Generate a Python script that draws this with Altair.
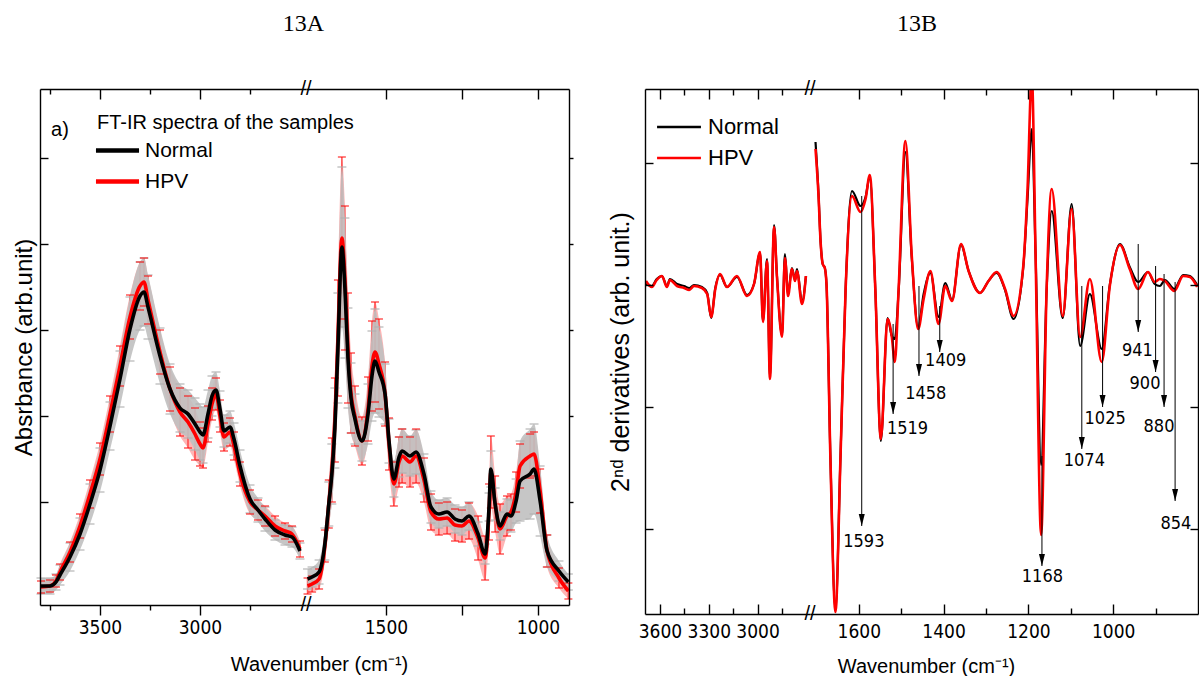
import altair as alt
import pandas as pd

SANS = "Liberation Sans, Arial, Helvetica, sans-serif"
NARROW = "Liberation Sans Narrow, Arial Narrow, DejaVu Sans Condensed, Liberation Sans, sans-serif"
SERIF = "Liberation Serif, Times New Roman, serif"

# ---------------- Panel 13A : FT-IR absorbance (arb. unit) ----------------
a_left_wn = [3795, 3750, 3720, 3700, 3650, 3600, 3550, 3500, 3450, 3400, 3350, 3300, 3280, 3260,
             3200, 3150, 3100, 3060, 3025, 3000, 2985, 2960, 2940, 2920, 2900, 2880, 2850, 2830,
             2800, 2750, 2710, 2675, 2625, 2575, 2540, 2500]
a_left_normal = [0.02, 0.02, 0.06, 0.13, 0.31, 0.54, 0.84, 1.18, 1.62, 2.09, 2.59, 2.92, 2.96, 2.81,
                 2.32, 1.99, 1.80, 1.74, 1.64, 1.56, 1.53, 1.74, 1.92, 1.98, 1.79, 1.57, 1.61, 1.49,
                 1.22, 0.89, 0.78, 0.69, 0.58, 0.53, 0.51, 0.37]
a_left_hpv = [0.01, 0.02, 0.07, 0.16, 0.36, 0.62, 0.94, 1.29, 1.74, 2.22, 2.71, 3.02, 3.06, 2.88,
              2.36, 1.99, 1.76, 1.66, 1.54, 1.44, 1.40, 1.64, 1.84, 1.94, 1.72, 1.51, 1.56, 1.42,
              1.14, 0.86, 0.78, 0.72, 0.62, 0.57, 0.54, 0.39]
a_left_normal_sd = [0.08, 0.08, 0.08, 0.10, 0.14, 0.16, 0.20, 0.22, 0.24, 0.28, 0.32, 0.34, 0.34, 0.32,
                    0.28, 0.25, 0.24, 0.24, 0.26, 0.28, 0.28, 0.24, 0.20, 0.18, 0.18, 0.16, 0.16, 0.16,
                    0.16, 0.14, 0.12, 0.12, 0.10, 0.10, 0.10, 0.08]
a_left_hpv_sd = [0.06, 0.06, 0.06, 0.08, 0.10, 0.12, 0.14, 0.16, 0.18, 0.20, 0.22, 0.24, 0.24, 0.24,
                 0.22, 0.22, 0.24, 0.26, 0.26, 0.22, 0.20, 0.18, 0.16, 0.16, 0.16, 0.14, 0.14, 0.14,
                 0.12, 0.12, 0.10, 0.10, 0.10, 0.08, 0.08, 0.08]

a_right_wn = [1758, 1743, 1720, 1701, 1688, 1678, 1668, 1658, 1645, 1635, 1625, 1615, 1602, 1579,
              1559, 1546, 1536, 1523, 1503, 1490, 1474, 1457, 1447, 1421, 1401, 1375, 1352, 1326,
              1299, 1273, 1250, 1227, 1197, 1174, 1161, 1155, 1141, 1125, 1102, 1089, 1072, 1059,
              1026, 1013, 993, 970, 931, 900]
a_right_normal = [0.09, 0.11, 0.16, 0.44, 0.84, 1.14, 1.60, 2.40, 3.41, 3.00, 2.30, 1.90, 1.69, 1.47,
                  1.74, 2.12, 2.27, 2.16, 1.94, 1.47, 1.09, 1.31, 1.37, 1.32, 1.36, 1.14, 0.81, 0.74,
                  0.76, 0.69, 0.67, 0.72, 0.54, 0.34, 0.81, 1.19, 0.84, 0.62, 0.74, 0.72, 0.87, 1.07,
                  1.14, 1.19, 0.87, 0.37, 0.17, 0.06]
a_right_hpv = [0.02, 0.04, 0.09, 0.42, 0.84, 1.18, 1.68, 2.50, 3.50, 3.10, 2.40, 1.95, 1.72, 1.47,
               1.79, 2.22, 2.36, 2.24, 1.94, 1.44, 1.04, 1.26, 1.32, 1.26, 1.32, 1.08, 0.76, 0.69,
               0.70, 0.63, 0.62, 0.67, 0.50, 0.30, 0.76, 1.16, 0.84, 0.59, 0.72, 0.76, 0.96, 1.22,
               1.32, 1.34, 0.97, 0.37, 0.10, -0.03]
a_right_normal_sd = [0.10, 0.10, 0.12, 0.16, 0.22, 0.30, 0.40, 0.55, 0.80, 0.70, 0.50, 0.35, 0.25, 0.20,
                     0.30, 0.45, 0.52, 0.45, 0.30, 0.22, 0.18, 0.20, 0.22, 0.20, 0.22, 0.20, 0.16, 0.14,
                     0.14, 0.14, 0.14, 0.14, 0.12, 0.10, 0.14, 0.18, 0.16, 0.14, 0.15, 0.16, 0.22, 0.40,
                     0.45, 0.45, 0.35, 0.16, 0.10, 0.08]
a_right_hpv_sd = [0.08, 0.08, 0.10, 0.16, 0.24, 0.32, 0.42, 0.58, 0.81, 0.72, 0.55, 0.40, 0.30, 0.24,
                  0.32, 0.45, 0.50, 0.45, 0.32, 0.26, 0.22, 0.25, 0.27, 0.25, 0.27, 0.22, 0.18, 0.16,
                  0.16, 0.16, 0.16, 0.18, 0.22, 0.22, 0.28, 0.36, 0.28, 0.25, 0.20, 0.18, 0.20, 0.22,
                  0.22, 0.22, 0.22, 0.16, 0.10, 0.08]

# ---------------- Panel 13B : 2nd derivative spectra ----------------
b_left_wn = [3686, 3650, 3620, 3588, 3557, 3539, 3495, 3452, 3420, 3391, 3342, 3310, 3285, 3260,
             3231, 3188, 3127, 3065, 3022, 2985, 2967, 2942, 2924, 2899, 2881, 2850, 2832, 2813,
             2789, 2770, 2758, 2727, 2703]
b_left_normal = [0.01, -0.01, 0.06, 0.09, -0.01, 0.06, 0.01, -0.01, -0.03, 0.00, -0.02, -0.08, -0.33,
                 -0.03, 0.10, -0.02, 0.08, -0.10, 0.01, 0.32, -0.36, 0.26, -0.92, 0.60, 0.09, -0.50,
                 0.31, -0.09, 0.17, 0.05, 0.16, -0.17, 0.09]
b_left_hpv = [0.04, -0.02, 0.05, 0.09, -0.02, 0.05, -0.01, -0.03, -0.05, -0.01, -0.03, -0.09, -0.32,
              -0.04, 0.11, -0.02, 0.09, -0.11, 0.01, 0.33, -0.37, 0.24, -0.94, 0.58, 0.08, -0.52,
              0.27, -0.11, 0.16, 0.04, 0.14, -0.19, 0.09]

b_right_wn = [1702, 1695, 1690, 1685, 1680, 1676, 1667, 1655, 1643, 1631, 1616, 1596, 1584, 1574,
              1561, 1548, 1532, 1522, 1515, 1506, 1490, 1475, 1460, 1447, 1431, 1412, 1396, 1380,
              1359, 1341, 1314, 1294, 1275, 1255, 1235, 1212, 1202, 1192, 1183, 1170, 1157, 1145,
              1119, 1098, 1078, 1055, 1027, 1008, 984, 961, 941, 918, 902, 890, 878, 856, 835, 819, 802]
b_right_normal = [1.43, 0.92, 0.43, 0.21, 0.17, 0.00, -1.70, -3.25, -1.70, -0.03, 0.94, 0.79, 0.88, 1.08,
                  -0.04, -1.56, -0.33, -0.51, -0.54, -0.06, 1.33, 0.27, -0.42, -0.09, 0.12, -0.32, 0.02,
                  -0.15, 0.40, 0.14, -0.08, 0.04, 0.12, -0.05, -0.34, 0.18, 0.86, 1.56, 0.30, -1.80,
                  -0.05, 0.74, -0.33, 0.81, -0.61, -0.09, -0.64, 0.00, 0.41, 0.18, 0.03, 0.13, 0.01,
                  -0.01, 0.05, -0.04, 0.10, 0.09, 0.00]
b_right_hpv = [1.36, 0.90, 0.43, 0.21, 0.17, 0.00, -1.71, -3.27, -1.71, -0.04, 0.89, 0.73, 0.86, 1.10,
               -0.04, -1.54, -0.34, -0.52, -0.77, -0.04, 1.44, 0.29, -0.44, -0.14, 0.14, -0.39, -0.01,
               -0.16, 0.41, 0.14, -0.08, 0.04, 0.13, -0.04, -0.31, 0.19, 0.96, 2.10, 0.29, -2.50,
               -0.04, 0.96, -0.31, 0.76, -0.52, 0.06, -0.77, -0.01, 0.40, 0.16, -0.04, 0.13, 0.03,
               0.06, 0.04, -0.06, 0.09, 0.08, -0.02]

# peak annotations (arrows) in panel 13B
ann_wn = [1593, 1519, 1458, 1409, 1168, 1074, 1025, 941, 900, 880, 854]
ann_from = [0.89, -0.39, -0.01, -0.21, -1.71, -0.01, -0.01, 0.41, 0.19, 0.11, 0.03]
ann_to = [-2.41, -1.29, -0.91, -0.67, -2.81, -1.64, -1.22, -0.47, -0.87, -1.22, -2.16]
ann_label_wn = [1588, 1485, 1442, 1395, 1167, 1068, 1019, 943, 925, 892, 852]
ann_label_y = [-2.57, -1.44, -1.09, -0.76, -2.92, -1.76, -1.34, -0.66, -0.99, -1.42, -2.39]

series_names = ["Normal", "HPV"]
series_colors = ["#000000", "#ff0000"]

a_ticks_left_major = [3500, 3000]
a_ticks_left_minor = [3750, 3250, 2750]
a_ticks_right = [1500, 1250, 1000]
a_ticks_y = [0.86, 1.72, 2.58, 3.44, 4.30]
b_ticks_left_major = [3600, 3300, 3000]
b_ticks_left_minor = [3450, 3150, 2850]
b_ticks_right_major = [1600, 1400, 1200, 1000]
b_ticks_right_minor = [1500, 1300, 1100, 900]
b_ticks_y = [1.22, 0.0, -1.22, -2.44]

# ---------------- layout ----------------
WAL, WAR, GAP, WBL, WBR = 266, 263, 76, 165, 388
HA, HB = 516, 525

sx_al = alt.Scale(domain=[3800, 2470], nice=False, zero=False)
sx_ar = alt.Scale(domain=[1763, 898], nice=False, zero=False)
sx_bl = alt.Scale(domain=[3692, 2678], nice=False, zero=False)
sx_br = alt.Scale(domain=[1715, 800], nice=False, zero=False)
sy_a = alt.Scale(domain=[-0.17, 4.99], nice=False, zero=False)
sy_b = alt.Scale(domain=[-3.29, 1.96], nice=False, zero=False)
color_scale = alt.Scale(domain=series_names, range=series_colors)


def axis(orient, values, size=0, domain=False, labels=False, offset=0, **kw):
    p = dict(orient=orient, values=values, grid=False, domain=domain, labels=labels,
             ticks=size > 0, domainColor="black", domainWidth=1.4, tickColor="black",
             tickWidth=1.4, zindex=1, title=None)
    if size > 0:
        p["tickSize"] = size
    if offset:
        p["offset"] = offset
    if labels:
        p.update(labelFont=NARROW, labelFontSize=19, labelColor="black", labelPadding=3,
                 labelFlush=False, labelOverlap=False, labelAngle=0, format="d")
    p.update(kw)
    return alt.Axis(**p)


def axis_layers(df, yfield, sx, sy, xaxes=(), yaxes=()):
    out = []
    for a in xaxes:
        out.append(alt.Chart(df).mark_line(opacity=0).encode(
            x=alt.X("wn:Q", scale=sx, axis=a), y=alt.Y(f"{yfield}:Q", scale=sy, axis=None)))
    for a in yaxes:
        out.append(alt.Chart(df).mark_line(opacity=0).encode(
            x=alt.X("wn:Q", scale=sx, axis=None), y=alt.Y(f"{yfield}:Q", scale=sy, axis=a)))
    return out


def txt(text, x, y, **kw):
    return alt.Chart(pd.DataFrame({"t": [text]})).mark_text(**kw).encode(
        text="t:N", x=alt.value(x), y=alt.value(y))


def frame_df(wn, normal, hpv, nsd=None, hsd=None):
    df = pd.DataFrame({"wn": wn, "normal": normal, "hpv": hpv})
    if nsd is not None:
        df["n_lo"] = df["normal"] - pd.Series(nsd)
        df["n_hi"] = df["normal"] + pd.Series(nsd)
        df["h_lo"] = df["hpv"] - pd.Series(hsd)
        df["h_hi"] = df["hpv"] + pd.Series(hsd)
    return df


def long_df(df):
    return pd.concat([
        pd.DataFrame({"wn": df["wn"], "value": df["normal"], "series": "Normal"}),
        pd.DataFrame({"wn": df["wn"], "value": df["hpv"], "series": "HPV"}),
    ], ignore_index=True)


def a_data_layers(df, sx, legend):
    x = alt.X("wn:Q", scale=sx, axis=None)
    base = alt.Chart(df)
    red_band = base.mark_area(color="#ff5a5a", opacity=0.45, interpolate="monotone").encode(
        x=x, y=alt.Y("h_lo:Q", scale=sy_a, axis=None), y2="h_hi:Q")
    red_bars = base.mark_rule(color="#ff1a1a", strokeWidth=1.5, opacity=0.7).encode(
        x=x, y=alt.Y("h_lo:Q", scale=sy_a, axis=None), y2="h_hi:Q")
    grey_band = base.mark_area(color="#c0c0c0", opacity=0.9, interpolate="monotone").encode(
        x=x, y=alt.Y("n_lo:Q", scale=sy_a, axis=None), y2="n_hi:Q")
    grey_caps = base.transform_fold(["n_lo", "n_hi"], as_=["cap", "capv"]).mark_tick(
        color="#b0b0b0", orient="horizontal", size=9, thickness=1.6).encode(
        x=x, y=alt.Y("capv:Q", scale=sy_a, axis=None))
    red_caps = base.transform_fold(["h_lo", "h_hi"], as_=["cap", "capv"]).mark_tick(
        color="#ff0000", orient="horizontal", size=8, thickness=1.4).encode(
        x=x, y=alt.Y("capv:Q", scale=sy_a, axis=None))
    ld = long_df(df)
    lines = []
    for s in ["HPV", "Normal"]:
        lines.append(alt.Chart(ld[ld["series"] == s]).mark_line(
            strokeWidth=3.6, interpolate="monotone").encode(
            x=x, y=alt.Y("value:Q", scale=sy_a, axis=None),
            color=alt.Color("series:N", scale=color_scale, legend=legend)))
    return [red_band, red_bars, grey_band, grey_caps, red_caps] + lines


def b_data_layers(df, sx, legend):
    x = alt.X("wn:Q", scale=sx, axis=None)
    ld = long_df(df)
    lines = []
    for s, w in [("Normal", 2.2), ("HPV", 2.6)]:
        lines.append(alt.Chart(ld[ld["series"] == s]).mark_line(
            strokeWidth=w, interpolate="monotone", clip=True).encode(
            x=x, y=alt.Y("value:Q", scale=sy_b, axis=None),
            color=alt.Color("series:N", scale=color_scale, legend=legend)))
    return lines


xt_common = dict(title="Wavenumber (cm\u207b\u00b9)", titleAlign="center", titleBaseline="middle",
                 titleAngle=0, titleFont=SANS, titleFontSize=20, titleFontWeight="normal",
                 titleColor="black")

# ---------- 13A left window ----------
df_al = frame_df(a_left_wn, a_left_normal, a_left_hpv, a_left_normal_sd, a_left_hpv_sd)
legend_a = alt.Legend(title="FT-IR spectra of the samples", orient="none", legendX=57, legendY=24,
                      symbolType="M-1.18,0L1.18,0", symbolSize=1332, symbolStrokeWidth=4.5,
                      labelFont=SANS, labelFontSize=21, labelColor="black", labelOffset=7,
                      titleFont=SANS, titleFontSize=20, titleFontWeight="normal",
                      titleColor="black", titleLimit=400, rowPadding=0, titlePadding=-3,
                      padding=0)
A_left = alt.layer(
    *a_data_layers(df_al, sx_al, legend_a),
    txt("a)", 20, 41, font=SANS, fontSize=20, align="center", baseline="middle", color="black"),
    txt("//", WAL, 0, font=SANS, fontSize=20, align="center", baseline="middle", color="black"),
    txt("//", WAL, HA, font=SANS, fontSize=20, align="center", baseline="middle", color="black"),
    *axis_layers(df_al, "normal", sx_al, sy_a,
                 xaxes=[axis("bottom", a_ticks_left_major, 10, domain=True, labels=True,
                             titleX=279, titleY=59, **xt_common),
                        axis("bottom", a_ticks_left_minor, 5),
                        axis("bottom", a_ticks_left_major, 10, domain=True, offset=-HA),
                        axis("bottom", a_ticks_left_minor, 5, offset=-HA)],
                 yaxes=[axis("left", a_ticks_y, 0, domain=True, title="Absrbance (arb.unit)",
                             titleFont=SANS, titleFontSize=24, titleFontWeight="normal",
                             titleColor="black", titlePadding=4),
                        axis("right", a_ticks_y, 8, offset=-WAL)]),
).resolve_axis(x="independent", y="independent").properties(width=WAL, height=HA)

# ---------- 13A right window ----------
df_ar = frame_df(a_right_wn, a_right_normal, a_right_hpv, a_right_normal_sd, a_right_hpv_sd)
A_right = alt.layer(
    *a_data_layers(df_ar, sx_ar, None),
    *axis_layers(df_ar, "normal", sx_ar, sy_a,
                 xaxes=[axis("bottom", a_ticks_right, 10, domain=True, labels=True,
                             labelExpr="datum.value == 1250 ? '' : datum.label"),
                        axis("bottom", a_ticks_right, 10, domain=True, offset=-HA)],
                 yaxes=[axis("right", a_ticks_y, 4, domain=True)]),
).resolve_axis(x="independent", y="independent").properties(
    width=WAR, height=HA,
    title=alt.TitleParams("13A", anchor="start", align="center", dx=3, offset=33, font=SERIF,
                          fontSize=24, fontWeight="normal", color="black", baseline="alphabetic"))

spacer = alt.Chart(pd.DataFrame({"s": [0]})).mark_point(opacity=0).encode(
    x=alt.X("s:Q", axis=None), y=alt.Y("s:Q", axis=None)).properties(width=GAP, height=HA)

# ---------- 13B left window ----------
df_bl = frame_df(b_left_wn, b_left_normal, b_left_hpv)
legend_b = alt.Legend(title=None, orient="none", legendX=14, legendY=18,
                      symbolType="M-1.17,0L1.17,0", symbolSize=1406, symbolStrokeWidth=2.5,
                      labelFont=SANS, labelFontSize=22, labelColor="black", labelOffset=9,
                      rowPadding=0, padding=0)
B_left = alt.layer(
    *b_data_layers(df_bl, sx_bl, legend_b),
    txt("//", WBL, 0, font=SANS, fontSize=20, align="center", baseline="middle", color="black"),
    txt("//", WBL, HB, font=SANS, fontSize=20, align="center", baseline="middle", color="black"),
    *axis_layers(df_bl, "normal", sx_bl, sy_b,
                 xaxes=[axis("bottom", b_ticks_left_major, 0, domain=True, labels=True,
                             labelPadding=8),
                        axis("top", b_ticks_left_major, 10, offset=-HB),
                        axis("top", b_ticks_left_minor, 6, offset=-HB),
                        axis("bottom", b_ticks_left_major, 10, domain=True, offset=-HB),
                        axis("bottom", b_ticks_left_minor, 6, offset=-HB)],
                 yaxes=[axis("left", b_ticks_y, 0, domain=True,
                             title="2\u207f\u1d48 derivatives (arb. unit.)", titleFont=SANS,
                             titleFontSize=25, titleFontWeight="normal", titleColor="black",
                             titlePadding=12),
                        axis("right", b_ticks_y, 8, offset=-WBL)]),
).resolve_axis(x="independent", y="independent").properties(width=WBL, height=HB)

# ---------- 13B right window ----------
df_br = frame_df(b_right_wn, b_right_normal, b_right_hpv)
df_ann = pd.DataFrame({"wn": ann_wn, "y0": ann_from, "y1": ann_to,
                       "lx": ann_label_wn, "ly": ann_label_y,
                       "label": [str(v) for v in ann_wn]})
xb = alt.X("wn:Q", scale=sx_br, axis=None)
ann_rules = alt.Chart(df_ann).mark_rule(color="black", strokeWidth=1).encode(
    x=xb, y=alt.Y("y0:Q", scale=sy_b, axis=None), y2="y1:Q")
ann_heads = alt.Chart(df_ann).mark_point(
    shape="M-0.5,-2L0.5,-2L0,0Z", filled=True, color="black", opacity=1, size=144).encode(
    x=xb, y=alt.Y("y1:Q", scale=sy_b, axis=None))
ann_text = alt.Chart(df_ann).mark_text(font=NARROW, fontSize=18, color="black",
                                       align="center", baseline="middle").encode(
    x=alt.X("lx:Q", scale=sx_br, axis=None), y=alt.Y("ly:Q", scale=sy_b, axis=None),
    text="label:N")
B_right = alt.layer(
    *b_data_layers(df_br, sx_br, None),
    ann_rules, ann_heads, ann_text,
    *axis_layers(df_br, "normal", sx_br, sy_b,
                 xaxes=[axis("bottom", b_ticks_right_major, 0, domain=True, labels=True,
                             labelPadding=8, titleX=116, titleY=52, **xt_common),
                        axis("top", b_ticks_right_major, 10, offset=-HB),
                        axis("top", b_ticks_right_minor, 6, offset=-HB),
                        axis("bottom", b_ticks_right_major, 10, domain=True, offset=-HB),
                        axis("bottom", b_ticks_right_minor, 6, offset=-HB)],
                 yaxes=[axis("right", b_ticks_y, 0, domain=True),
                        axis("left", b_ticks_y, 8, offset=-WBR)]),
).resolve_axis(x="independent", y="independent").properties(
    width=WBR, height=HB,
    title=alt.TitleParams("13B", anchor="start", align="center", dx=107, offset=33, font=SERIF,
                          fontSize=24, fontWeight="normal", color="black", baseline="alphabetic"))

chart = alt.hconcat(A_left, A_right, spacer, B_left, B_right, spacing=0, bounds="flush").resolve_scale(
    color="independent").configure_view(stroke=None).properties(
    padding={"left": 12, "top": 12, "right": 0, "bottom": 0}, background="white")

chart.save("out.html", embed_options={"renderer": "svg", "actions": False})
